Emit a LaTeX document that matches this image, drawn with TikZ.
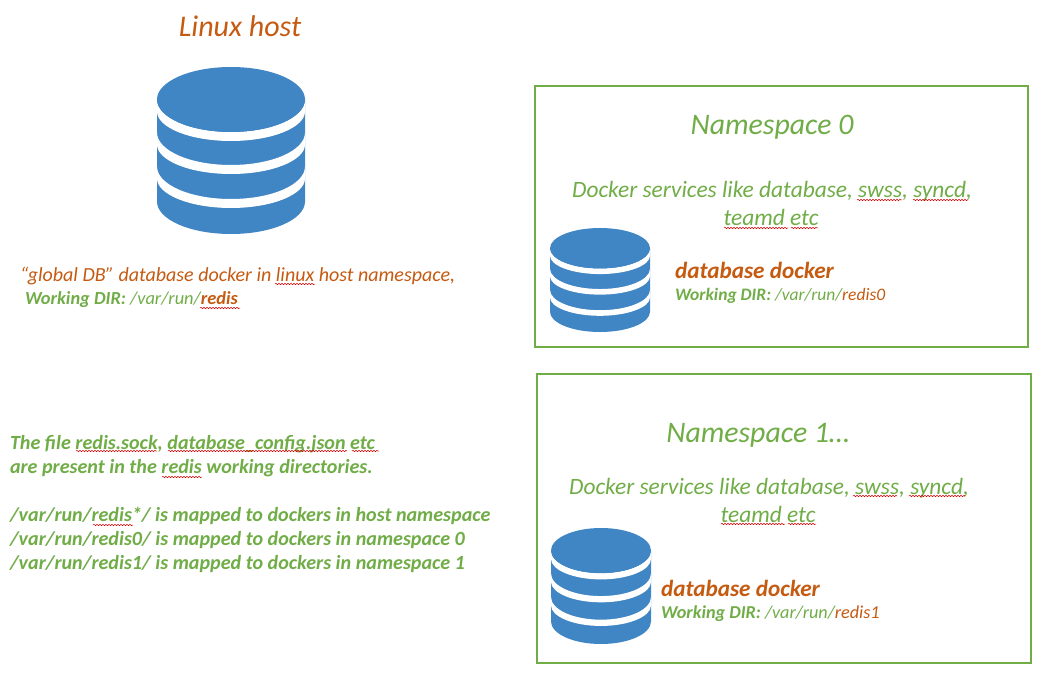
\documentclass[tikz,border=0pt]{standalone}
\usepackage{fontspec}
\setmainfont{Carlito}
\usetikzlibrary{decorations.pathmorphing}
\definecolor{dbblue}{HTML}{4085C4}
\definecolor{orng}{HTML}{C55A11}
\definecolor{grn}{HTML}{70AD47}
\newcommand{\fs}[1]{\fontsize{#1}{#1}\selectfont}
\tikzset{
  lbl/.style={anchor=base west,inner sep=0pt,outer sep=0pt,font=\itshape},
  ctr/.style={anchor=base,inner sep=0pt,outer sep=0pt,font=\itshape},
  nsbox/.style={draw=grn,line width=2pt,fill=none},
  squig/.style={draw=red!85!black,line width=0.5pt,decorate,decoration={snake,amplitude=0.7pt,segment length=3pt}}
}
\newcommand{\dbicon}[4]{% left, top, width, height
  \begin{scope}[shift={(#1+#3/2,#2)},xscale=#3/148,yscale=#4/167]
    \fill[dbblue] (-74,32.5) -- (-74,134.5) .. controls (-74,152.5) and (-41,167) .. (0,167)
       .. controls (41,167) and (74,152.5) .. (74,134.5) -- (74,32.5) -- cycle;
    \foreach \c in {32.5,65.5,99.5}{
      \fill[white] (-74,\c) .. controls (-74,\c+18) and (-41,\c+32.5) .. (0,\c+32.5)
        .. controls (41,\c+32.5) and (74,\c+18) .. (74,\c)
        -- (74,\c+12) .. controls (74,\c+28) and (41,\c+41.5) .. (0,\c+41.5)
        .. controls (-41,\c+41.5) and (-74,\c+28) .. (-74,\c+12) -- cycle;
    }
    \fill[dbblue] (0,32.5) ellipse [x radius=74,y radius=32.5];
  \end{scope}}
\begin{document}
\begin{tikzpicture}[x=1pt,y=-1pt]
\useasboundingbox (0,0) rectangle (1047,687);
\fill[white] (0,0) rectangle (1047,687);
\draw[nsbox] (535,86) rectangle (1028,347);
\draw[nsbox] (537,374) rectangle (1031,663);
\dbicon{157}{67}{148}{167}
\dbicon{550}{228}{100}{104}
\dbicon{551}{528}{100}{116}

\node[ctr,text=orng] (host) at (240,37) {\fs{30}Linux host};
\node[lbl,text=orng] (glob) at (20,281) {\fs{20}“global DB” database docker in linux host namespace,};
\node[lbl,text=grn] (gdir) at (25,304) {\fs{18.4}\textbf{Working DIR:} /var/run/{\color{orng}\textbf{redis}}};

\node[ctr,text=grn] (ns0) at (772,135) {\fs{29.8}Namespace 0};
\node[ctr,text=grn] (svc0) at (772,198) {\fs{23.4}Docker services like database, swss, syncd,};
\node[ctr,text=grn] (tm0) at (771,226) {\fs{23.4}teamd etc};
\node[lbl,text=orng] (db0) at (675,279) {\fs{23.2}\textbf{database docker}};
\node[lbl,text=grn] (dir0) at (675,300) {\fs{17.5}\textbf{Working DIR:} /var/run/{\color{orng}redis0}};

\node[ctr,text=grn] (ns1) at (758,442) {\fs{29.8}Namespace 1…};
\node[ctr,text=grn] (svc1) at (769,494) {\fs{23.4}Docker services like database, swss, syncd,};
\node[ctr,text=grn] (tm1) at (768,522) {\fs{23.4}teamd etc};
\node[lbl,text=orng] (db1) at (661,596) {\fs{23.2}\textbf{database docker}};
\node[lbl,text=grn] (dir1) at (661,618) {\fs{18.2}\textbf{Working DIR:} /var/run/{\color{orng}redis1}};

\node[lbl,text=grn,font=\itshape\bfseries] (n1) at (10,449) {\fs{20.1}The file redis.sock, database\_config.json etc};
\node[lbl,text=grn,font=\itshape\bfseries] (n2) at (10,473) {\fs{20.1}are present in the redis working directories.};
\node[lbl,text=grn,font=\itshape\bfseries] (n3) at (10,521) {\fs{20.1}/var/run/redis*/ is mapped to dockers in host namespace};
\node[lbl,text=grn,font=\itshape\bfseries] (n4) at (10,545) {\fs{20.1}/var/run/redis0/ is mapped to dockers in namespace 0};
\node[lbl,text=grn,font=\itshape\bfseries] (n5) at (10,569) {\fs{20.1}/var/run/redis1/ is mapped to dockers in namespace 1};

% spell-check underlines
\foreach \xa/\xb/\yy in {275/315/284, 200/240/308, 857/902/200, 913/968/200, 724/788/228, 791/818/228,
  853/897/496, 909/965/496, 721/785/524, 788/816/524, 76/157/451, 168/347/451, 352/379/451,
  162/202/477, 93/133/525}
  \path[squig] (\xa,\yy) -- (\xb,\yy);
\end{tikzpicture}
\end{document}
